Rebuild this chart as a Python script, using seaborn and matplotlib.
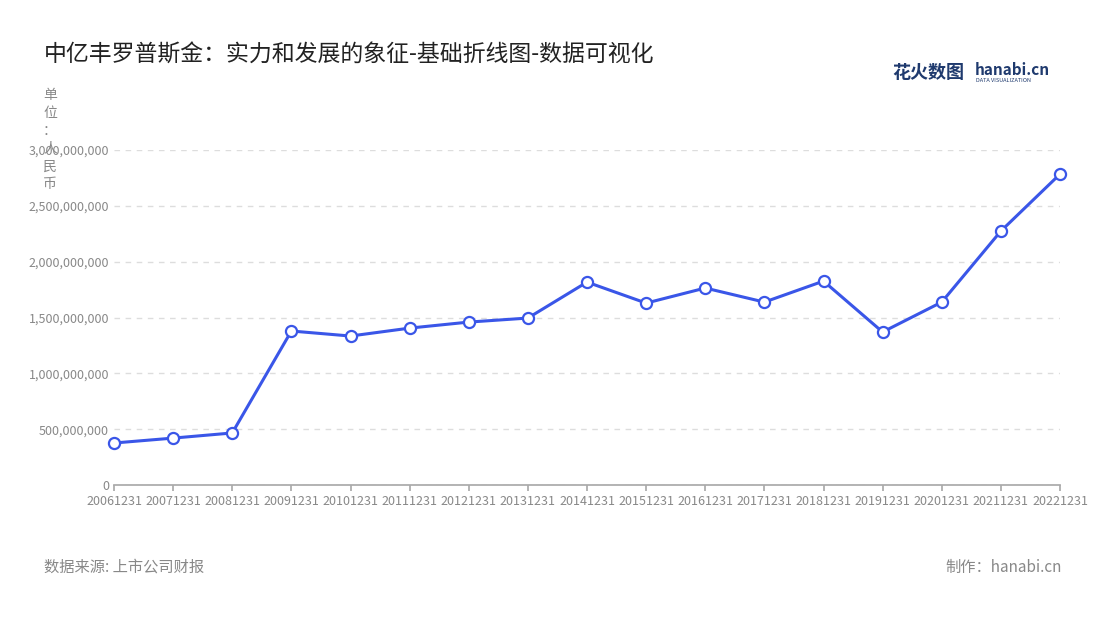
import matplotlib
matplotlib.use("Agg")
import matplotlib.pyplot as plt
import seaborn as sns
import pandas as pd
from matplotlib.ticker import FuncFormatter

years = ["20061231","20071231","20081231","20091231","20101231","20111231","20121231","20131231","20141231",
         "20151231","20161231","20171231","20181231","20191231","20201231","20211231","20221231"]
values = [376e6,420e6,466e6,1379e6,1334e6,1405e6,1459e6,1495e6,1817e6,1629e6,1764e6,1638e6,1826e6,1370e6,1638e6,2274e6,2784e6]

sns.set_theme(style="white")
plt.rcParams['font.family'] = ['Noto Sans CJK SC', 'DejaVu Sans']

df = pd.DataFrame({"x": range(len(years)), "v": values})
fig = plt.figure(figsize=(11, 6.2), dpi=100)
ax = fig.add_axes([114/1100, 1-485/620, (1060-114)/1100, (485-150)/620])
sns.lineplot(data=df, x="x", y="v", ax=ax, color="#3a56e8", linewidth=2.2,
             marker="o", markersize=8, markerfacecolor="white", markeredgecolor="#3a56e8", markeredgewidth=1.6)
for ln in ax.lines:
    ln.set_clip_on(False)
    ln.set_zorder(5)
ax.set_xlim(0, len(years)-1)
ax.set_ylim(0, 3e9)
ax.set_xticks(range(len(years)))
ax.set_xticklabels(years, fontsize=9, color="#888888")
ax.set_yticks([0, 5e8, 1e9, 1.5e9, 2e9, 2.5e9, 3e9])
ax.yaxis.set_major_formatter(FuncFormatter(lambda v, p: f"{int(v):,}"))
ax.tick_params(axis='y', labelsize=9, labelcolor="#888888", length=0)
ax.tick_params(axis='x', length=4, color="#aaaaaa", bottom=True)
ax.grid(axis='y', linestyle=(0, (4, 4)), color="#dddddd")
for s in ["top", "right", "left"]:
    ax.spines[s].set_visible(False)
ax.spines["bottom"].set_color("#aaaaaa")
ax.set_xlabel(""); ax.set_ylabel("")

fig.text(44/1100, 1-55/620, "中亿丰罗普斯金：实力和发展的象征-基础折线图-数据可视化", fontsize=16.5, color="#222222", va="center")
fig.text(50/1100, 1-88/620, "单\n位\n：\n人\n民\n币", fontsize=10, color="#888888", va="top", ha="center", linespacing=1.35)
fig.text(44/1100, 1-567/620, "数据来源: 上市公司财报", fontsize=11, color="#888888", va="center")
fig.text(1062/1100, 1-567/620, "制作：hanabi.cn", fontsize=11, color="#888888", va="center", ha="right")
fig.text(892/1100, 1-72/620, "花火数图", fontsize=13, color="#1f3a6e", weight="bold", va="center")
fig.text(975/1100, 1-70/620, "hanabi.cn", fontsize=11, color="#1f3a6e", weight="bold", va="center")
fig.text(976/1100, 1-80/620, "DATA VISUALIZATION", fontsize=4, color="#1f3a6e", va="center")
fig.savefig("out.png", dpi=100)
